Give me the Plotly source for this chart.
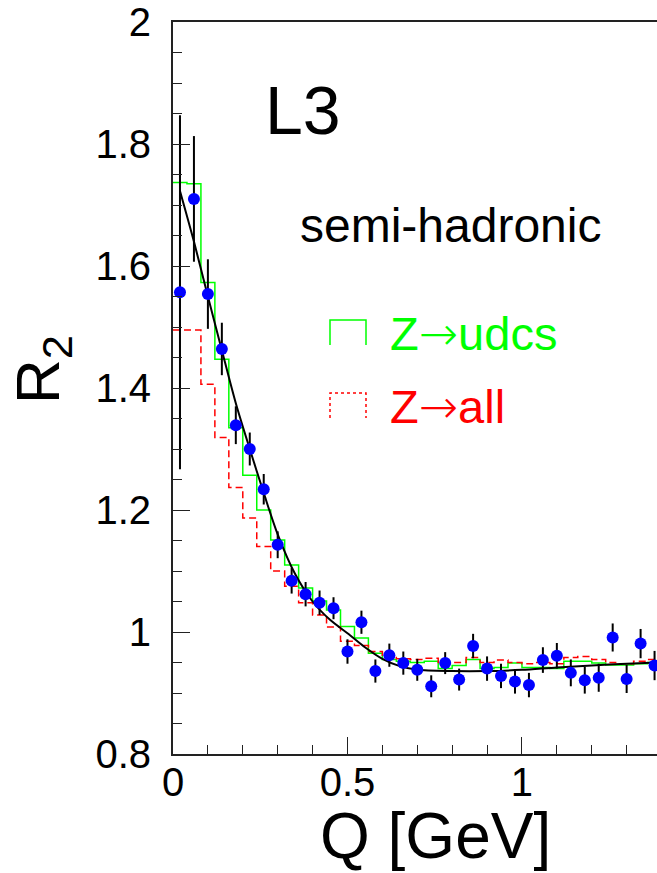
import plotly.graph_objects as go

# Measured R2 versus Q (bin centres, values, symmetric errors)
q = [0.02, 0.06, 0.10, 0.14, 0.18, 0.22, 0.26, 0.30, 0.34, 0.38,
     0.42, 0.46, 0.50, 0.54, 0.58, 0.62, 0.66, 0.70, 0.74, 0.78,
     0.82, 0.86, 0.90, 0.94, 0.98, 1.02, 1.06, 1.10, 1.14, 1.18,
     1.22, 1.26, 1.30, 1.34, 1.38]
r2 = [1.557, 1.710, 1.554, 1.464, 1.339, 1.300, 1.234, 1.143, 1.084, 1.062,
      1.048, 1.039, 0.968, 1.016, 0.936, 0.962, 0.949, 0.938, 0.911, 0.949,
      0.922, 0.977, 0.940, 0.928, 0.919, 0.913, 0.954, 0.961, 0.933, 0.921,
      0.925, 0.991, 0.923, 0.981, 0.945]
r2_err = [0.290, 0.103, 0.057, 0.043, 0.031, 0.027, 0.025, 0.022, 0.021, 0.020,
          0.020, 0.018, 0.020, 0.019, 0.019, 0.019, 0.019, 0.018, 0.018, 0.018,
          0.018, 0.020, 0.020, 0.020, 0.020, 0.020, 0.021, 0.021, 0.022, 0.022,
          0.023, 0.023, 0.023, 0.024, 0.024]

# Monte Carlo histograms (bin low edges, common width 0.04)
bin_lo = [0.00, 0.04, 0.08, 0.12, 0.16, 0.20, 0.24, 0.28, 0.32, 0.36,
          0.40, 0.44, 0.48, 0.52, 0.56, 0.60, 0.64, 0.68, 0.72, 0.76,
          0.80, 0.84, 0.88, 0.92, 0.96, 1.00, 1.04, 1.08, 1.12, 1.16,
          1.20, 1.24, 1.28, 1.32, 1.36]
bin_hi_last = 1.40
mc_udcs = [1.737, 1.735, 1.573, 1.447, 1.335, 1.257, 1.200, 1.151, 1.110, 1.072,
           1.051, 1.036, 1.009, 0.990, 0.965, 0.955, 0.952, 0.950, 0.952, 0.940,
           0.945, 0.955, 0.940, 0.942, 0.949, 0.942, 0.942, 0.940, 0.952, 0.952,
           0.949, 0.946, 0.946, 0.948, 0.950]
mc_all = [1.495, 1.495, 1.406, 1.319, 1.237, 1.187, 1.140, 1.100, 1.075, 1.048,
          1.028, 1.008, 0.985, 0.978, 0.968, 0.962, 0.956, 0.955, 0.957, 0.950,
          0.950, 0.958, 0.950, 0.954, 0.950, 0.948, 0.950, 0.948, 0.958, 0.960,
          0.955, 0.950, 0.948, 0.952, 0.955]

# Fitted parametrisation, sampled along Q
fit_q = [0.02, 0.06, 0.10, 0.14, 0.18, 0.22, 0.26, 0.30, 0.35, 0.40,
         0.45, 0.50, 0.55, 0.60, 0.65, 0.70, 0.80, 0.90, 1.00, 1.10,
         1.20, 1.30, 1.39]
fit_r = [1.723, 1.640, 1.550, 1.462, 1.375, 1.300, 1.228, 1.160, 1.095, 1.050,
         1.020, 0.998, 0.975, 0.956, 0.944, 0.938, 0.936, 0.936, 0.938, 0.942,
         0.945, 0.948, 0.950]

FONT = "Liberation Sans, Arial, Helvetica, sans-serif"
ARROW = "<span style='font-family:DejaVu Sans;font-weight:200'>→</span>"

fig = go.Figure()

# step histograms
fig.add_trace(go.Scatter(
    x=bin_lo + [bin_hi_last], y=mc_udcs + [mc_udcs[-1]],
    mode="lines", line=dict(color="#00ff00", width=1.5, shape="hv"),
    hoverinfo="skip", showlegend=False))
fig.add_trace(go.Scatter(
    x=bin_lo + [bin_hi_last], y=mc_all + [mc_all[-1]],
    mode="lines", line=dict(color="#ff0000", width=1.5, shape="hv", dash="7px,4px"),
    hoverinfo="skip", showlegend=False))

# fit curve
fig.add_trace(go.Scatter(
    x=fit_q, y=fit_r, mode="lines",
    line=dict(color="black", width=2, shape="spline", smoothing=0.8),
    hoverinfo="skip", showlegend=False))

# data points
fig.add_trace(go.Scatter(
    x=q, y=r2, mode="markers",
    marker=dict(color="#0000ff", size=12, line=dict(width=0)),
    error_y=dict(type="data", array=r2_err, color="black", thickness=2, width=0),
    cliponaxis=False, showlegend=False))


# helpers: pixel position -> paper fraction of the plot area
def px_x(p):
    return (p - 173) / 484.0


def px_y(p):
    return 1 - (p - 22) / 732.0


# legend symbols (open boxes)
shapes = []
for (top, bot, col, dash) in [(320, 345, "#00ff00", "solid"), (393, 418, "#ff0000", "3px,3px")]:
    path = "M {x0} {y1} L {x0} {y0} L {x1} {y0} L {x1} {y1}".format(
        x0=px_x(330), x1=px_x(366), y0=px_y(top), y1=px_y(bot))
    shapes.append(dict(type="path", path=path, xref="paper", yref="paper",
                       line=dict(color=col, width=1.5, dash=dash)))

annotations = [
    dict(text="L3", x=px_x(263), y=px_y(110), xref="paper", yref="paper",
         xanchor="left", yanchor="middle", showarrow=False,
         font=dict(family=FONT, size=68, color="black")),
    dict(text="semi-hadronic", x=px_x(450), y=px_y(225), xref="paper", yref="paper",
         xanchor="center", yanchor="middle", showarrow=False,
         font=dict(family=FONT, size=48, color="black")),
    dict(text="Z" + ARROW + "udcs", x=px_x(388), y=px_y(333), xref="paper", yref="paper",
         xanchor="left", yanchor="middle", showarrow=False,
         font=dict(family=FONT, size=47, color="#00ff00")),
    dict(text="Z" + ARROW + "all", x=px_x(388), y=px_y(406), xref="paper", yref="paper",
         xanchor="left", yanchor="middle", showarrow=False,
         font=dict(family=FONT, size=47, color="#ff0000")),
    dict(text="R<sub>2</sub>", x=px_x(42), y=px_y(370), xref="paper", yref="paper",
         xanchor="center", yanchor="middle", textangle=-90, showarrow=False,
         font=dict(family=FONT, size=62, color="black")),
    dict(text="Q [GeV]", x=px_x(435), y=px_y(836), xref="paper", yref="paper",
         xanchor="center", yanchor="middle", showarrow=False,
         font=dict(family=FONT, size=64, color="black")),
]

fig.update_layout(
    width=657, height=873,
    margin=dict(l=173, r=0, t=22, b=119),
    paper_bgcolor="white", plot_bgcolor="white",
    shapes=shapes, annotations=annotations,
    showlegend=False,
    xaxis=dict(
        range=[0, 1.387], showgrid=False, zeroline=False,
        showline=True, linecolor="#222222", linewidth=2, mirror=True,
        tick0=0, dtick=0.5, ticks="inside", ticklen=17, tickwidth=1.3, tickcolor="#222222",
        minor=dict(dtick=0.1, ticks="inside", ticklen=9, tickwidth=1.3, tickcolor="#222222"),
        tickfont=dict(family=FONT, size=40, color="black"),
        ticklabelstandoff=-8,
    ),
    yaxis=dict(
        range=[0.8, 2.0], showgrid=False, zeroline=False,
        showline=True, linecolor="#222222", linewidth=2, mirror=False,
        tick0=0.8, dtick=0.2, ticks="inside", ticklen=17, tickwidth=1.3, tickcolor="#222222",
        minor=dict(dtick=0.05, ticks="inside", ticklen=9, tickwidth=1.3, tickcolor="#222222"),
        tickfont=dict(family=FONT, size=40, color="black"),
        ticklabelstandoff=12,
    ),
)

fig.write_html("out.html")
